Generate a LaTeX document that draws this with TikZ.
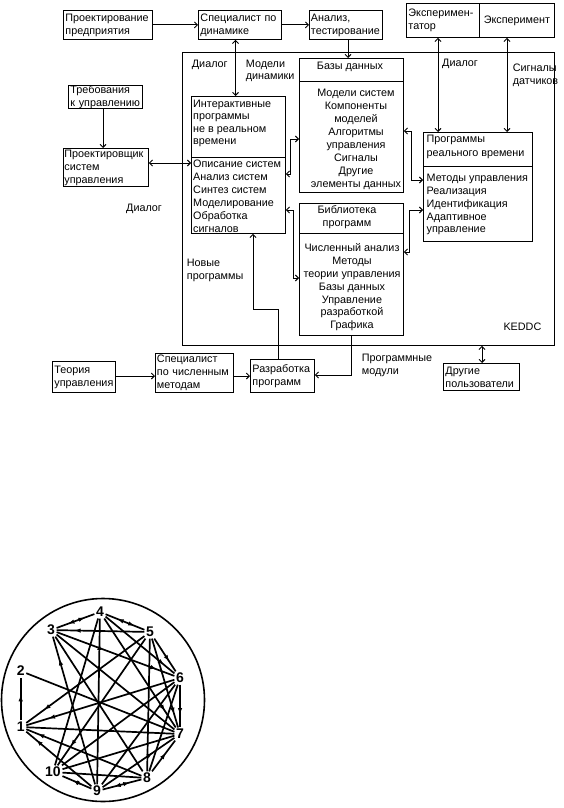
\documentclass[tikz,border=0pt]{standalone}
\usepackage{fontspec}
\setmainfont{Liberation Sans}
\usetikzlibrary{arrows.meta,decorations.markings,calc}
\newcommand\dfont{\fontsize{10.8}{13}\selectfont}
\newcommand\firstl{\rule{0pt}{9pt}}
\begin{document}
\begin{tikzpicture}[x=1pt,y=-1pt,
  bx/.style={draw, line width=0.9pt, anchor=north west, inner xsep=2pt, inner ysep=1pt, align=left, font=\dfont},
  bxe/.style={draw, line width=0.9pt, anchor=north west, inner sep=0pt},
  tx/.style={inner sep=0pt, align=left, font=\dfont},
  ln/.style={line width=0.9pt},
  ar/.style={line width=0.9pt, -{Straight Barb[length=3pt,width=6pt]}},
  dar/.style={line width=0.9pt, {Straight Barb[length=3pt,width=6pt]}-{Straight Barb[length=3pt,width=6pt]}},
  num/.style={font=\fontsize{14}{14}\selectfont\bfseries, inner sep=1.5pt},
  ed/.style={line width=1.7pt},
  ma/.style={postaction={decorate,decoration={markings,mark=at position #1 with {\arrow{Latex[length=6.5pt,width=4.5pt]}}}}},
  mr/.style={postaction={decorate,decoration={markings,mark=at position #1 with {\arrowreversed{Latex[length=6.5pt,width=4.5pt]}}}}}
]
\useasboundingbox (0,0) rectangle (564,808);

% big KEDDC frame
\node[bxe, minimum width=372pt, minimum height=293pt] (keddc) at (182,52) {};

% top row
\node[bx, text width=85pt, minimum height=29pt] (pp) at (63,10) {Проектирование\\предприятия};
\node[bx, text width=79pt, minimum height=29pt] (spd) at (198,10) {Специалист по\\динамике};
\node[bx, text width=70pt, inner xsep=1.5pt, minimum height=29pt] (an) at (309,10) {Анализ,\\тестирование};
\node[bx, text width=69pt, minimum height=34pt] (exr) at (406,3) {Эксперимен-\\татор};
\node[bx, text width=71pt, minimum height=34pt, align=center] (exp) at (479,3) {Эксперимент};

% left
\node[bx, text width=70pt, minimum height=23pt, inner ysep=0pt, font=\fontsize{10.8}{12.5}\selectfont] (treb) at (68,85) {Требования\\к управлению};
\node[bx, text width=83pt, inner xsep=1pt, minimum height=38pt, inner ysep=0pt] (proj) at (63,148) {Проектировщик\\систем\\управления};

% bottom row
\node[bx, text width=59pt, minimum height=31pt] (teor) at (52,361) {Теория\\управления};
\node[bx, text width=75pt, inner xsep=1.5pt, minimum height=39pt, inner ysep=0pt] (spch) at (155,353) {Специалист\\по численным\\методам};
\node[bx, text width=60pt, minimum height=33pt] (razr) at (250,359) {Разработка\\программ};
\node[bx, text width=72pt, minimum height=27pt, inner ysep=0pt] (drug) at (443,363) {Другие\\пользователи};

% Interactive programs
\node[bxe, minimum width=94pt, minimum height=137pt] (inter) at (191,96) {};
\draw[ln] (inter.west |- 0,157) -- (inter.east |- 0,157);
\node[tx, anchor=north west, font=\fontsize{10.8}{12.3}\selectfont] (interA) at (193,98.3) {\firstl Интерактивные\\программы\\не в реальном\\времени};
\node[tx, anchor=north west] (interB) at (193,158.3) {\firstl Описание систем\\Анализ систем\\Синтез систем\\Моделирование\\Обработка\\сигналов};

% Databases
\node[bxe, minimum width=104pt, minimum height=134pt] (bazy) at (299,58) {};
\draw[ln] (bazy.west |- 0,81) -- (bazy.east |- 0,81);
\node[tx, anchor=north, align=center] (bazyH) at (350,60.3) {\firstl Базы данных};
\node[tx, anchor=north, align=center] (bazyB) at (356,87) {\firstl Модели систем\\Компоненты\\моделей\\Алгоритмы\\управления\\Сигналы\\Другие\\элементы данных};

% Library
\node[bxe, minimum width=104pt, minimum height=132pt] (bibl) at (299,203) {};
\draw[ln] (bibl.west |- 0,233) -- (bibl.east |- 0,233);
\node[tx, anchor=north, align=center] (biblH) at (347,204.3) {\firstl Библиотека\\программ};
\node[tx, anchor=north, align=center, font=\fontsize{10.8}{12.8}\selectfont] (biblB) at (352,242.7) {\firstl Численный анализ\\Методы\\теории управления\\Базы данных\\Управление\\разработкой\\Графика};

% Real-time programs
\node[bxe, minimum width=109pt, minimum height=109pt] (prog) at (423,132) {};
\draw[ln] (prog.west |- 0,166) -- (prog.east |- 0,166);
\node[tx, anchor=north west, font=\fontsize{10.8}{13.3}\selectfont] (progH) at (426.5,133.7) {\firstl Программы\\реального времени};
\node[tx, anchor=north west, font=\fontsize{10.8}{12.75}\selectfont] (progB) at (426.5,172.7) {\firstl Методы управления\\Реализация\\Идентификация\\Адаптивное\\управление};

% free labels
\node[tx, anchor=base west] (dl1) at (191.7,67.3) {Диалог};
\node[tx, anchor=north west, font=\fontsize{10.8}{12}\selectfont] (md) at (245.7,58.3) {\firstl Модели\\динамики};
\node[tx, anchor=base west] (dl2) at (442,66.7) {Диалог};
\node[tx, anchor=north west, font=\fontsize{10.8}{12.3}\selectfont] (sd) at (512.7,62.7) {\firstl Сигналы\\датчиков};
\node[tx, anchor=base west] (dl3) at (126,211) {Диалог};
\node[tx, anchor=north west, font=\fontsize{10.8}{12.7}\selectfont] (np) at (186.7,257.7) {\firstl Новые\\программы};
\node[tx, anchor=north west] (pm) at (361.7,352) {\firstl Программные\\модули};
\node[tx, anchor=base west] (kd) at (503.3,330) {KEDDC};

% connectors
\draw[ar] (pp.east) -- (spd.west);
\draw[ar] (spd.east) -- (an.west);
\draw[dar] (spd.south -| 235.5,0) -- (inter.north -| 235.5,0);
\draw[ar] (an.south -| 348,0) -- (bazy.north -| 348,0);
\draw[dar] (exr.south -| 438,0) -- (prog.north -| 438,0);
\draw[dar] (exp.south -| 507,0) -- (prog.north -| 507,0);
\draw[ar] (treb.south -| 103,0) -- (proj.north -| 103,0);
\draw[dar] (proj.east |- 0,163) -- (inter.west |- 0,163);
\draw[dar] (bazy.west |- 0,139) -- (290,139) |- (inter.east |- 0,174);
\draw[dar] (inter.east |- 0,210) -- (293,210) |- (bibl.west |- 0,278);
\draw[dar] (bazy.east |- 0,131) -- (411,131) |- (prog.west |- 0,180);
\draw[dar] (prog.west |- 0,210) -- (409,210) |- (bibl.east |- 0,252);
\draw[ar] (razr.north -| 278,0) |- (253,309) -- (inter.south -| 253,0);
\draw[ar] (bibl.south -| 351,0) |- (razr.east |- 0,375);
\draw[ar] (teor.east |- 0,376) -- (spch.west |- 0,376);
\draw[ar] (spch.east |- 0,376) -- (razr.west |- 0,376);
\draw[dar] (keddc.south -| 482,0) -- (drug.north -| 482,0);

% ---------- circle graph ----------
\node[draw, circle, line width=1.6pt, minimum size=203pt, inner sep=0pt] (circ) at (103,700) {};
\node[num] (n1) at (20.7,727) {1};
\node[num] (n2) at (20.7,671) {2};
\node[num] (n3) at (51,630) {3};
\node[num] (n4) at (100,612) {4};
\node[num] (n5) at (150,632) {5};
\node[num] (n6) at (180,678) {6};
\node[num] (n7) at (180,734) {7};
\node[num] (n8) at (147,778) {8};
\node[num] (n9) at (97,791) {9};
\node[num] (n10) at (53,772) {10};

\draw[ed, ma=0.85] (n9) -- (n4);
\draw[ed] (n2) -- (n7);
\draw[ed, ma=0.85] (n6) -- (n1);
\draw[ed] (n3) -- (n8);
\draw[ed, ma=0.85] (n5) -- (n10);
\draw[ed, ma=0.75, mr=0.3] (n3) -- (n4);
\draw[ed, ma=0.75, mr=0.3] (n4) -- (n5);
\draw[ed, ma=0.8] (n5) -- (n3);
\draw[ed, ma=0.85] (n4) -- (n6);
\draw[ed, ma=0.85] (n4) -- (n7);
\draw[ed, ma=0.85] (n3) -- (n6);
\draw[ed] (n3) -- (n7);
\draw[ed, ma=0.85] (n9) -- (n3);
\draw[ed] (n4) -- (n10);
\draw[ed, ma=0.7] (n5) -- (n6);
\draw[ed, ma=0.85] (n5) -- (n7);
\draw[ed] (n5) -- (n8);
\draw[ed, ma=0.85] (n5) -- (n1);
\draw[ed, ma=0.7] (n6) -- (n7);
\draw[ed] (n6) -- (n10);
\draw[ed] (n6) -- (n9);
\draw[ed] (n8) -- (n6);
\draw[ed] (n7) -- (n1);
\draw[ed, ma=0.6] (n8) -- (n7);
\draw[ed, ma=0.7] (n9) -- (n7);
\draw[ed] (n7) -- (n10);
\draw[ed, ma=0.7, mr=0.3] (n8) -- (n9);
\draw[ed] (n8) -- (n10);
\draw[ed, ma=0.9] (n8) -- (n1);
\draw[ed, ma=0.65, mr=0.3] (n9) -- (n10);
\draw[ed, ma=0.85] (n9) -- (n1);
\draw[ed, ma=0.6] (n1) -- (n2);
\end{tikzpicture}
\end{document}
